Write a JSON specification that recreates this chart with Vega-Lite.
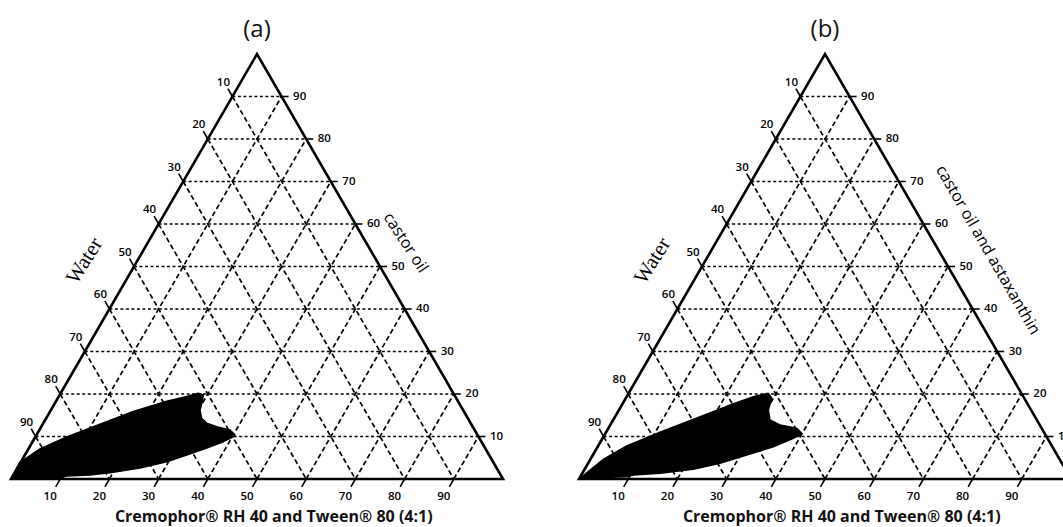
{
  "$schema": "https://vega.github.io/schema/vega-lite/v6.json",
  "width": 1063,
  "height": 527,
  "autosize": "none",
  "padding": 0,
  "background": "white",
  "config": {"view": {"stroke": null}},
  "datasets": {
    "frame": [
      {"i": 0, "x": 0, "y": 0},
      {"i": 1, "x": 50, "y": 100},
      {"i": 2, "x": 100, "y": 0}
    ],
    "grid": [
      {"kind": "h", "x": 5, "y": 10, "x2": 95, "y2": 10},
      {"kind": "h", "x": 10, "y": 20, "x2": 90, "y2": 20},
      {"kind": "h", "x": 15, "y": 30, "x2": 85, "y2": 30},
      {"kind": "h", "x": 20, "y": 40, "x2": 80, "y2": 40},
      {"kind": "h", "x": 25, "y": 50, "x2": 75, "y2": 50},
      {"kind": "h", "x": 30, "y": 60, "x2": 70, "y2": 60},
      {"kind": "h", "x": 35, "y": 70, "x2": 65, "y2": 70},
      {"kind": "h", "x": 40, "y": 80, "x2": 60, "y2": 80},
      {"kind": "h", "x": 45, "y": 90, "x2": 55, "y2": 90},
      {"kind": "d", "x": 10, "y": 0, "x2": 55, "y2": 90},
      {"kind": "d", "x": 20, "y": 0, "x2": 60, "y2": 80},
      {"kind": "d", "x": 30, "y": 0, "x2": 65, "y2": 70},
      {"kind": "d", "x": 40, "y": 0, "x2": 70, "y2": 60},
      {"kind": "d", "x": 50, "y": 0, "x2": 75, "y2": 50},
      {"kind": "d", "x": 60, "y": 0, "x2": 80, "y2": 40},
      {"kind": "d", "x": 70, "y": 0, "x2": 85, "y2": 30},
      {"kind": "d", "x": 80, "y": 0, "x2": 90, "y2": 20},
      {"kind": "d", "x": 90, "y": 0, "x2": 95, "y2": 10},
      {"kind": "d", "x": 45, "y": 90, "x2": 90, "y2": 0},
      {"kind": "d", "x": 40, "y": 80, "x2": 80, "y2": 0},
      {"kind": "d", "x": 35, "y": 70, "x2": 70, "y2": 0},
      {"kind": "d", "x": 30, "y": 60, "x2": 60, "y2": 0},
      {"kind": "d", "x": 25, "y": 50, "x2": 50, "y2": 0},
      {"kind": "d", "x": 20, "y": 40, "x2": 40, "y2": 0},
      {"kind": "d", "x": 15, "y": 30, "x2": 30, "y2": 0},
      {"kind": "d", "x": 10, "y": 20, "x2": 20, "y2": 0},
      {"kind": "d", "x": 5, "y": 10, "x2": 10, "y2": 0}
    ],
    "ticks": [
      {"side": "r", "v": 10, "x": 95, "y": 10, "x2": 96.42, "y2": 10},
      {"side": "r", "v": 20, "x": 90, "y": 20, "x2": 91.42, "y2": 20},
      {"side": "r", "v": 30, "x": 85, "y": 30, "x2": 86.42, "y2": 30},
      {"side": "r", "v": 40, "x": 80, "y": 40, "x2": 81.42, "y2": 40},
      {"side": "r", "v": 50, "x": 75, "y": 50, "x2": 76.42, "y2": 50},
      {"side": "r", "v": 60, "x": 70, "y": 60, "x2": 71.42, "y2": 60},
      {"side": "r", "v": 70, "x": 65, "y": 70, "x2": 66.42, "y2": 70},
      {"side": "r", "v": 80, "x": 60, "y": 80, "x2": 61.42, "y2": 80},
      {"side": "r", "v": 90, "x": 55, "y": 90, "x2": 56.42, "y2": 90},
      {"side": "l", "v": 10, "x": 45, "y": 90, "x2": 44.09, "y2": 91.84},
      {"side": "l", "v": 20, "x": 40, "y": 80, "x2": 39.09, "y2": 81.84},
      {"side": "l", "v": 30, "x": 35, "y": 70, "x2": 34.09, "y2": 71.84},
      {"side": "l", "v": 40, "x": 30, "y": 60, "x2": 29.09, "y2": 61.84},
      {"side": "l", "v": 50, "x": 25, "y": 50, "x2": 24.09, "y2": 51.84},
      {"side": "l", "v": 60, "x": 20, "y": 40, "x2": 19.09, "y2": 41.84},
      {"side": "l", "v": 70, "x": 15, "y": 30, "x2": 14.09, "y2": 31.84},
      {"side": "l", "v": 80, "x": 10, "y": 20, "x2": 9.09, "y2": 21.84},
      {"side": "l", "v": 90, "x": 5, "y": 10, "x2": 4.09, "y2": 11.84},
      {"side": "b", "v": 10, "x": 10, "y": 0, "x2": 9.09, "y2": -1.84},
      {"side": "b", "v": 20, "x": 20, "y": 0, "x2": 19.09, "y2": -1.84},
      {"side": "b", "v": 30, "x": 30, "y": 0, "x2": 29.09, "y2": -1.84},
      {"side": "b", "v": 40, "x": 40, "y": 0, "x2": 39.09, "y2": -1.84},
      {"side": "b", "v": 50, "x": 50, "y": 0, "x2": 49.09, "y2": -1.84},
      {"side": "b", "v": 60, "x": 60, "y": 0, "x2": 59.09, "y2": -1.84},
      {"side": "b", "v": 70, "x": 70, "y": 0, "x2": 69.09, "y2": -1.84},
      {"side": "b", "v": 80, "x": 80, "y": 0, "x2": 79.09, "y2": -1.84},
      {"side": "b", "v": 90, "x": 90, "y": 0, "x2": 89.09, "y2": -1.84}
    ],
    "region_a": [
      {"i": 1, "x": 0, "y": 0},
      {"i": 2, "x": 1.83, "y": 3.9},
      {"i": 3, "x": 5.89, "y": 7.1},
      {"i": 4, "x": 11.32, "y": 9.9},
      {"i": 5, "x": 18.09, "y": 12.9},
      {"i": 6, "x": 24.86, "y": 15.9},
      {"i": 7, "x": 31.65, "y": 18.3},
      {"i": 8, "x": 35.71, "y": 19.4},
      {"i": 9, "x": 38.07, "y": 20.16},
      {"i": 10, "x": 39.09, "y": 19.76},
      {"i": 11, "x": 38.96, "y": 18.59},
      {"i": 12, "x": 38.41, "y": 16.24},
      {"i": 13, "x": 38.76, "y": 14.28},
      {"i": 14, "x": 39.78, "y": 13.11},
      {"i": 15, "x": 41.81, "y": 12.31},
      {"i": 16, "x": 44.51, "y": 11.53},
      {"i": 17, "x": 45.53, "y": 10.35},
      {"i": 18, "x": 45.18, "y": 9.95},
      {"i": 19, "x": 43.15, "y": 8.78},
      {"i": 20, "x": 39.78, "y": 7.29},
      {"i": 21, "x": 35.71, "y": 5.65},
      {"i": 22, "x": 31.65, "y": 4.07},
      {"i": 23, "x": 26.22, "y": 2.59},
      {"i": 24, "x": 20.12, "y": 1.48},
      {"i": 25, "x": 16.06, "y": 0.94},
      {"i": 26, "x": 11.32, "y": 0.71},
      {"i": 27, "x": 9.96, "y": 0.24},
      {"i": 28, "x": 1.8, "y": 0}
    ],
    "region_b": [
      {"i": 1, "x": 0, "y": 0},
      {"i": 2, "x": 4.94, "y": 4.6},
      {"i": 3, "x": 9.7, "y": 7.8},
      {"i": 4, "x": 16.46, "y": 11.0},
      {"i": 5, "x": 23.17, "y": 14.0},
      {"i": 6, "x": 30.02, "y": 17.1},
      {"i": 7, "x": 35.43, "y": 19.36},
      {"i": 8, "x": 38.48, "y": 20.16},
      {"i": 9, "x": 39.17, "y": 18.99},
      {"i": 10, "x": 38.48, "y": 16.24},
      {"i": 11, "x": 38.82, "y": 13.88},
      {"i": 12, "x": 40.85, "y": 12.71},
      {"i": 13, "x": 44.25, "y": 11.93},
      {"i": 14, "x": 45.26, "y": 10.75},
      {"i": 15, "x": 43.56, "y": 9.58},
      {"i": 16, "x": 39.49, "y": 7.6},
      {"i": 17, "x": 34.09, "y": 5.65},
      {"i": 18, "x": 28.66, "y": 3.69},
      {"i": 19, "x": 23.23, "y": 2.28},
      {"i": 20, "x": 16.48, "y": 1.34},
      {"i": 21, "x": 11.04, "y": 0.94},
      {"i": 22, "x": 9.7, "y": 0.54},
      {"i": 23, "x": 0.2, "y": 0.16}
    ]
  },
  "resolve": {"scale": {"x": "independent"}},
  "layer": [
    {
      "layer": [
        {
          "data": {"name": "grid"},
          "transform": [{"filter": "datum.kind === 'h'"}],
          "mark": {"type": "rule", "stroke": "#000", "strokeWidth": 1.7, "strokeDash": [3, 2.5]},
          "encoding": {
            "x": {"field": "x", "type": "quantitative", "scale": {"domain": [-2.236, 213.821], "nice": false, "zero": false}, "axis": null},
            "y": {"field": "y", "type": "quantitative", "scale": {"domain": [-11.294, 112.706], "nice": false, "zero": false}, "axis": null},
            "x2": {"field": "x2"},
            "y2": {"field": "y2"}
          }
        },
        {
          "data": {"name": "grid"},
          "transform": [{"filter": "datum.kind === 'd'"}],
          "mark": {"type": "rule", "stroke": "#000", "strokeWidth": 1.7, "strokeDash": [5, 3]},
          "encoding": {
            "x": {"field": "x", "type": "quantitative", "scale": {"domain": [-2.236, 213.821], "nice": false, "zero": false}, "axis": null},
            "y": {"field": "y", "type": "quantitative", "scale": {"domain": [-11.294, 112.706], "nice": false, "zero": false}, "axis": null},
            "x2": {"field": "x2"},
            "y2": {"field": "y2"}
          }
        },
        {
          "data": {"name": "region_a"},
          "mark": {"type": "line", "interpolate": "linear-closed", "fill": "#000", "stroke": "#000", "strokeWidth": 1.5, "strokeJoin": "round"},
          "encoding": {
            "x": {"field": "x", "type": "quantitative", "scale": {"domain": [-2.236, 213.821], "nice": false, "zero": false}, "axis": null},
            "y": {"field": "y", "type": "quantitative", "scale": {"domain": [-11.294, 112.706], "nice": false, "zero": false}, "axis": null},
            "order": {"field": "i", "type": "quantitative"}
          }
        },
        {
          "data": {"name": "frame"},
          "mark": {"type": "line", "interpolate": "linear-closed", "stroke": "#000", "strokeWidth": 2.6, "strokeJoin": "miter"},
          "encoding": {
            "x": {"field": "x", "type": "quantitative", "scale": {"domain": [-2.236, 213.821], "nice": false, "zero": false}, "axis": null},
            "y": {"field": "y", "type": "quantitative", "scale": {"domain": [-11.294, 112.706], "nice": false, "zero": false}, "axis": null},
            "order": {"field": "i", "type": "quantitative"}
          }
        },
        {
          "data": {"name": "ticks"},
          "mark": {"type": "rule", "stroke": "#000", "strokeWidth": 1.6},
          "encoding": {
            "x": {"field": "x", "type": "quantitative", "scale": {"domain": [-2.236, 213.821], "nice": false, "zero": false}, "axis": null},
            "y": {"field": "y", "type": "quantitative", "scale": {"domain": [-11.294, 112.706], "nice": false, "zero": false}, "axis": null},
            "x2": {"field": "x2"},
            "y2": {"field": "y2"}
          }
        },
        {
          "data": {"name": "ticks"},
          "transform": [{"filter": "datum.side === 'r'"}],
          "mark": {"type": "text", "align": "left", "baseline": "middle", "dx": 11.5, "font": "Open Sans", "fontWeight": 600, "fontSize": 11.5, "fill": "#000"},
          "encoding": {
            "x": {"field": "x", "type": "quantitative", "scale": {"domain": [-2.236, 213.821], "nice": false, "zero": false}, "axis": null},
            "y": {"field": "y", "type": "quantitative", "scale": {"domain": [-11.294, 112.706], "nice": false, "zero": false}, "axis": null},
            "text": {"field": "v", "type": "quantitative"}
          }
        },
        {
          "data": {"name": "ticks"},
          "transform": [{"filter": "datum.side === 'l'"}],
          "mark": {"type": "text", "align": "center", "baseline": "middle", "dx": -9, "dy": -14, "font": "Open Sans", "fontWeight": 600, "fontSize": 11.5, "fill": "#000"},
          "encoding": {
            "x": {"field": "x", "type": "quantitative", "scale": {"domain": [-2.236, 213.821], "nice": false, "zero": false}, "axis": null},
            "y": {"field": "y", "type": "quantitative", "scale": {"domain": [-11.294, 112.706], "nice": false, "zero": false}, "axis": null},
            "text": {"field": "v", "type": "quantitative"}
          }
        },
        {
          "data": {"name": "ticks"},
          "transform": [{"filter": "datum.side === 'b'"}],
          "mark": {"type": "text", "align": "center", "baseline": "middle", "dx": -10, "dy": 18, "font": "Open Sans", "fontWeight": 600, "fontSize": 11.5, "fill": "#000"},
          "encoding": {
            "x": {"field": "x", "type": "quantitative", "scale": {"domain": [-2.236, 213.821], "nice": false, "zero": false}, "axis": null},
            "y": {"field": "y", "type": "quantitative", "scale": {"domain": [-11.294, 112.706], "nice": false, "zero": false}, "axis": null},
            "text": {"field": "v", "type": "quantitative"}
          }
        },
        {
          "data": {"values": [{}]},
          "mark": {"type": "text", "text": "(a)", "align": "center", "baseline": "middle", "font": "Open Sans", "fontSize": 24, "fill": "#111"},
          "encoding": {
            "x": {"datum": 50, "type": "quantitative", "scale": {"domain": [-2.236, 213.821], "nice": false, "zero": false}, "axis": null},
            "y": {"datum": 105.6, "type": "quantitative", "scale": {"domain": [-11.294, 112.706], "nice": false, "zero": false}, "axis": null}
          }
        },
        {
          "data": {"values": [{}]},
          "mark": {"type": "text", "text": "Water", "align": "center", "baseline": "middle", "angle": 302, "font": "Liberation Serif", "fontSize": 21, "fill": "#000"},
          "encoding": {
            "x": {"datum": 15, "type": "quantitative", "scale": {"domain": [-2.236, 213.821], "nice": false, "zero": false}, "axis": null},
            "y": {"datum": 51.3, "type": "quantitative", "scale": {"domain": [-11.294, 112.706], "nice": false, "zero": false}, "axis": null}
          }
        },
        {
          "data": {"values": [{}]},
          "mark": {"type": "text", "text": "castor oil", "align": "center", "baseline": "middle", "angle": 57, "font": "Open Sans", "fontSize": 16, "fill": "#000"},
          "encoding": {
            "x": {"datum": 80.2, "type": "quantitative", "scale": {"domain": [-2.236, 213.821], "nice": false, "zero": false}, "axis": null},
            "y": {"datum": 55.6, "type": "quantitative", "scale": {"domain": [-11.294, 112.706], "nice": false, "zero": false}, "axis": null}
          }
        },
        {
          "data": {"values": [{}]},
          "mark": {"type": "text", "text": "Cremophor® RH 40 and Tween® 80 (4:1)", "align": "center", "baseline": "middle", "font": "Open Sans", "fontWeight": "bold", "fontSize": 16, "fill": "#111"},
          "encoding": {
            "x": {"datum": 53.4, "type": "quantitative", "scale": {"domain": [-2.236, 213.821], "nice": false, "zero": false}, "axis": null},
            "y": {"datum": -8.85, "type": "quantitative", "scale": {"domain": [-11.294, 112.706], "nice": false, "zero": false}, "axis": null}
          }
        }
      ]
    },
    {
      "layer": [
        {
          "data": {"name": "grid"},
          "transform": [{"filter": "datum.kind === 'h'"}],
          "mark": {"type": "rule", "stroke": "#000", "strokeWidth": 1.7, "strokeDash": [3, 2.5]},
          "encoding": {
            "x": {"field": "x", "type": "quantitative", "scale": {"domain": [-117.683, 98.374], "nice": false, "zero": false}, "axis": null},
            "y": {"field": "y", "type": "quantitative", "scale": {"domain": [-11.294, 112.706], "nice": false, "zero": false}, "axis": null},
            "x2": {"field": "x2"},
            "y2": {"field": "y2"}
          }
        },
        {
          "data": {"name": "grid"},
          "transform": [{"filter": "datum.kind === 'd'"}],
          "mark": {"type": "rule", "stroke": "#000", "strokeWidth": 1.7, "strokeDash": [5, 3]},
          "encoding": {
            "x": {"field": "x", "type": "quantitative", "scale": {"domain": [-117.683, 98.374], "nice": false, "zero": false}, "axis": null},
            "y": {"field": "y", "type": "quantitative", "scale": {"domain": [-11.294, 112.706], "nice": false, "zero": false}, "axis": null},
            "x2": {"field": "x2"},
            "y2": {"field": "y2"}
          }
        },
        {
          "data": {"name": "region_b"},
          "mark": {"type": "line", "interpolate": "linear-closed", "fill": "#000", "stroke": "#000", "strokeWidth": 1.5, "strokeJoin": "round"},
          "encoding": {
            "x": {"field": "x", "type": "quantitative", "scale": {"domain": [-117.683, 98.374], "nice": false, "zero": false}, "axis": null},
            "y": {"field": "y", "type": "quantitative", "scale": {"domain": [-11.294, 112.706], "nice": false, "zero": false}, "axis": null},
            "order": {"field": "i", "type": "quantitative"}
          }
        },
        {
          "data": {"name": "frame"},
          "mark": {"type": "line", "interpolate": "linear-closed", "stroke": "#000", "strokeWidth": 2.6, "strokeJoin": "miter"},
          "encoding": {
            "x": {"field": "x", "type": "quantitative", "scale": {"domain": [-117.683, 98.374], "nice": false, "zero": false}, "axis": null},
            "y": {"field": "y", "type": "quantitative", "scale": {"domain": [-11.294, 112.706], "nice": false, "zero": false}, "axis": null},
            "order": {"field": "i", "type": "quantitative"}
          }
        },
        {
          "data": {"name": "ticks"},
          "mark": {"type": "rule", "stroke": "#000", "strokeWidth": 1.6},
          "encoding": {
            "x": {"field": "x", "type": "quantitative", "scale": {"domain": [-117.683, 98.374], "nice": false, "zero": false}, "axis": null},
            "y": {"field": "y", "type": "quantitative", "scale": {"domain": [-11.294, 112.706], "nice": false, "zero": false}, "axis": null},
            "x2": {"field": "x2"},
            "y2": {"field": "y2"}
          }
        },
        {
          "data": {"name": "ticks"},
          "transform": [{"filter": "datum.side === 'r'"}],
          "mark": {"type": "text", "align": "left", "baseline": "middle", "dx": 11.5, "font": "Open Sans", "fontWeight": 600, "fontSize": 11.5, "fill": "#000"},
          "encoding": {
            "x": {"field": "x", "type": "quantitative", "scale": {"domain": [-117.683, 98.374], "nice": false, "zero": false}, "axis": null},
            "y": {"field": "y", "type": "quantitative", "scale": {"domain": [-11.294, 112.706], "nice": false, "zero": false}, "axis": null},
            "text": {"field": "v", "type": "quantitative"}
          }
        },
        {
          "data": {"name": "ticks"},
          "transform": [{"filter": "datum.side === 'l'"}],
          "mark": {"type": "text", "align": "center", "baseline": "middle", "dx": -9, "dy": -14, "font": "Open Sans", "fontWeight": 600, "fontSize": 11.5, "fill": "#000"},
          "encoding": {
            "x": {"field": "x", "type": "quantitative", "scale": {"domain": [-117.683, 98.374], "nice": false, "zero": false}, "axis": null},
            "y": {"field": "y", "type": "quantitative", "scale": {"domain": [-11.294, 112.706], "nice": false, "zero": false}, "axis": null},
            "text": {"field": "v", "type": "quantitative"}
          }
        },
        {
          "data": {"name": "ticks"},
          "transform": [{"filter": "datum.side === 'b'"}],
          "mark": {"type": "text", "align": "center", "baseline": "middle", "dx": -10, "dy": 18, "font": "Open Sans", "fontWeight": 600, "fontSize": 11.5, "fill": "#000"},
          "encoding": {
            "x": {"field": "x", "type": "quantitative", "scale": {"domain": [-117.683, 98.374], "nice": false, "zero": false}, "axis": null},
            "y": {"field": "y", "type": "quantitative", "scale": {"domain": [-11.294, 112.706], "nice": false, "zero": false}, "axis": null},
            "text": {"field": "v", "type": "quantitative"}
          }
        },
        {
          "data": {"values": [{}]},
          "mark": {"type": "text", "text": "(b)", "align": "center", "baseline": "middle", "font": "Open Sans", "fontSize": 24, "fill": "#111"},
          "encoding": {
            "x": {"datum": 50, "type": "quantitative", "scale": {"domain": [-117.683, 98.374], "nice": false, "zero": false}, "axis": null},
            "y": {"datum": 105.6, "type": "quantitative", "scale": {"domain": [-11.294, 112.706], "nice": false, "zero": false}, "axis": null}
          }
        },
        {
          "data": {"values": [{}]},
          "mark": {"type": "text", "text": "Water", "align": "center", "baseline": "middle", "angle": 302, "font": "Liberation Serif", "fontSize": 21, "fill": "#000"},
          "encoding": {
            "x": {"datum": 15, "type": "quantitative", "scale": {"domain": [-117.683, 98.374], "nice": false, "zero": false}, "axis": null},
            "y": {"datum": 51.3, "type": "quantitative", "scale": {"domain": [-11.294, 112.706], "nice": false, "zero": false}, "axis": null}
          }
        },
        {
          "data": {"values": [{}]},
          "mark": {"type": "text", "text": "castor oil and astaxanthin", "align": "center", "baseline": "middle", "angle": 60, "font": "Open Sans", "fontSize": 16, "fill": "#000"},
          "encoding": {
            "x": {"datum": 83.1, "type": "quantitative", "scale": {"domain": [-117.683, 98.374], "nice": false, "zero": false}, "axis": null},
            "y": {"datum": 53.9, "type": "quantitative", "scale": {"domain": [-11.294, 112.706], "nice": false, "zero": false}, "axis": null}
          }
        },
        {
          "data": {"values": [{}]},
          "mark": {"type": "text", "text": "Cremophor® RH 40 and Tween® 80 (4:1)", "align": "center", "baseline": "middle", "font": "Open Sans", "fontWeight": "bold", "fontSize": 16, "fill": "#111"},
          "encoding": {
            "x": {"datum": 53.4, "type": "quantitative", "scale": {"domain": [-117.683, 98.374], "nice": false, "zero": false}, "axis": null},
            "y": {"datum": -8.85, "type": "quantitative", "scale": {"domain": [-11.294, 112.706], "nice": false, "zero": false}, "axis": null}
          }
        }
      ]
    }
  ]
}
